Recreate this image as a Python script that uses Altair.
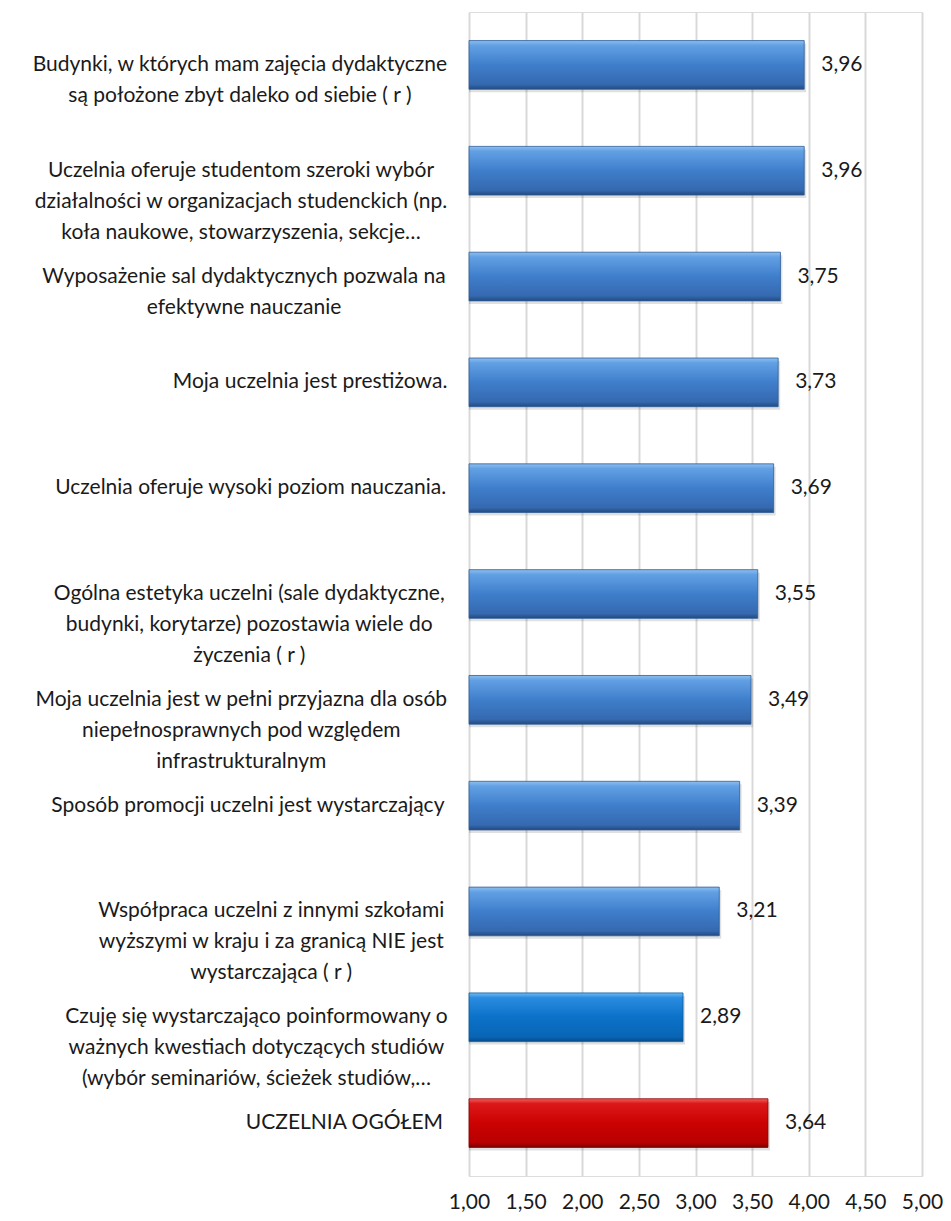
import altair as alt
import pandas as pd

labels = [
    "Budynki, w których mam zajęcia dydaktyczne\nsą położone zbyt daleko od siebie ( r )",
    "Uczelnia oferuje studentom szeroki wybór\ndziałalności w organizacjach studenckich (np.\nkoła naukowe, stowarzyszenia, sekcje…",
    "Wyposażenie sal dydaktycznych pozwala na\nefektywne nauczanie",
    "Moja uczelnia jest prestiżowa.",
    "Uczelnia oferuje wysoki poziom nauczania.",
    "Ogólna estetyka uczelni (sale dydaktyczne,\nbudynki, korytarze) pozostawia wiele do\nżyczenia ( r )",
    "Moja uczelnia jest w pełni przyjazna dla osób\nniepełnosprawnych pod względem\ninfrastrukturalnym",
    "Sposób promocji uczelni jest wystarczający",
    "Współpraca uczelni z innymi szkołami\nwyższymi w kraju i za granicą NIE jest\nwystarczająca ( r )",
    "Czuję się wystarczająco poinformowany o\nważnych kwestiach dotyczących studiów\n(wybór seminariów, ścieżek studiów,…",
    "UCZELNIA OGÓŁEM",
]
values = [3.96, 3.96, 3.75, 3.73, 3.69, 3.55, 3.49, 3.39, 3.21, 2.89, 3.64]
groups = ["blue"] * 9 + ["bright", "red"]
x_ticks = [1.0, 1.5, 2.0, 2.5, 3.0, 3.5, 4.0, 4.5, 5.0]
x_min, x_max = 1, 5

FONT = "Lato"
CAT_SIZE = 21


def est_width(line):
    """Rough text width estimate (px) used only to centre lines inside a right-aligned block."""
    w = 0.0
    for ch in line:
        if ch in "ilj.,:;!'|()[] tfrIłś…":
            w += 0.5
        elif ch in "mwMWOGQÓŁ":
            w += 1.45
        elif ch.isupper():
            w += 1.3
        else:
            w += 1.0
    return w * 11.0 * CAT_SIZE / 21


df = pd.DataFrame({
    "id": [f"r{i:02d}" for i in range(len(labels))],
    "label": labels,
    "v": values,
    "grp": groups,
})
df["lx"] = [-22 - max(est_width(s) for s in l.split("\n")) / 2 for l in labels]

order = list(df["id"])

y_enc = alt.Y("id:N", sort=order, axis=None,
              scale=alt.Scale(paddingInner=0.54, paddingOuter=0.27))
x_scale = alt.Scale(domain=[x_min, x_max], nice=False, zero=False)
x_enc = alt.X("v:Q", scale=x_scale)
x2_enc = alt.X2(datum=x_min)

base = alt.Chart(df)

grid = base.mark_bar(opacity=0).encode(
    x=alt.X("v:Q", scale=x_scale,
            axis=alt.Axis(values=x_ticks, grid=True, gridColor="#d9d9d9", gridWidth=2,
                          domain=False, ticks=False, title=None, labelOverlap=False,
                          labelExpr="replace(format(datum.value, '.2f'), '.', ',')",
                          labelFont=FONT, labelFontSize=21, labelColor="#1a1a1a",
                          labelPadding=15, labelFlush=False)),
    x2=x2_enc,
    y=y_enc,
)

shadow = base.mark_bar(color="#000000", opacity=0.12, xOffset=2, yOffset=3).encode(
    x=x_enc, x2=x2_enc, y=y_enc)


def grad(stops):
    return alt.Gradient(gradient="linear", x1=0, x2=0, y1=0, y2=1,
                        stops=[alt.GradientStop(offset=o, color=c) for o, c in stops])


blue = grad([(0, "#8ebfef"), (0.1, "#62a0e4"), (0.5, "#3f7ecb"), (0.9, "#3569b0"), (1, "#22497f")])
bright = grad([(0, "#6fbcf5"), (0.1, "#2a8ce0"), (0.5, "#0b72c9"), (0.9, "#0965b5"), (1, "#064c8a")])
red = grad([(0, "#f26060"), (0.1, "#dc1818"), (0.5, "#cc0202"), (0.9, "#b80000"), (1, "#7a0000")])

bars = []
for g, fill, stroke in [("blue", blue, "#2d5d99"), ("bright", bright, "#075a9e"), ("red", red, "#8a0000")]:
    bars.append(
        base.transform_filter(alt.datum.grp == g).mark_bar(
            color=fill, stroke=stroke, strokeWidth=0.8
        ).encode(x=x_enc, x2=x2_enc, y=y_enc)
    )

vals = base.transform_calculate(
    txt="replace(format(datum.v, '.2f'), '.', ',')"
).mark_text(align="left", baseline="middle", dx=17, font=FONT, fontSize=21, color="#1a1a1a").encode(
    x=x_enc, y=y_enc, text="txt:N")

cats = base.mark_text(align="center", baseline="middle", font=FONT, fontSize=CAT_SIZE,
                      color="#1a1a1a", lineBreak="\n", lineHeight=31).encode(
    x=alt.X("lx:Q", scale=None), y=y_enc, text="label:N")

chart = alt.layer(grid, shadow, *bars, vals, cats).properties(
    width=453, height=1164,
    autosize=alt.AutoSizeParams(type="none"),
    padding={"left": 461, "top": 4, "right": 21, "bottom": 36},
).configure_view(stroke=None).configure(background="white")

chart.save("out.html", embed_options={"renderer": "svg", "actions": False})
